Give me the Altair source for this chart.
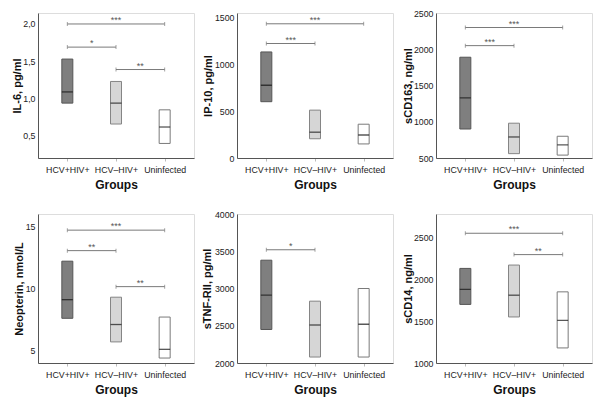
import altair as alt
import pandas as pd

GROUPS = ["HCV+HIV+", "HCV–HIV+", "Uninfected"]
FILLS = ["#7f7f7f", "#d6d6d6", "#ffffff"]
STROKES = ["#555555", "#858585", "#7a7a7a"]

# IL-6, pg/ml
IL6_LOW = [0.94, 0.66, 0.40]
IL6_MED = [1.09, 0.94, 0.62]
IL6_HIGH = [1.53, 1.23, 0.85]
IL6_SIG = [(0, 2, 2.00, "***"), (0, 1, 1.69, "*"), (1, 2, 1.39, "**")]

# IP-10, pg/ml
IP10_LOW = [600, 205, 150]
IP10_MED = [775, 275, 245]
IP10_HIGH = [1130, 510, 360]
IP10_SIG = [(0, 2, 1430, "***"), (0, 1, 1220, "***")]

# sCD163, ng/ml
CD163_LOW = [900, 560, 540]
CD163_MED = [1330, 790, 680]
CD163_HIGH = [1890, 980, 800]
CD163_SIG = [(0, 2, 2300, "***"), (0, 1, 2050, "***")]

# Neopterin, nmol/L
NEO_LOW = [7.6, 5.7, 4.4]
NEO_MED = [9.1, 7.1, 5.1]
NEO_HIGH = [12.2, 9.3, 7.7]
NEO_SIG = [(0, 2, 14.7, "***"), (0, 1, 13.05, "**"), (1, 2, 10.15, "**")]

# sTNF-RII, pg/ml
TNF_LOW = [2450, 2080, 2080]
TNF_MED = [2910, 2510, 2520]
TNF_HIGH = [3380, 2830, 3000]
TNF_SIG = [(0, 1, 3520, "*")]

# sCD14, ng/ml
CD14_LOW = [1700, 1550, 1180]
CD14_MED = [1880, 1810, 1510]
CD14_HIGH = [2130, 2170, 1850]
CD14_SIG = [(0, 2, 2550, "***"), (1, 2, 2295, "**")]

W = 156
H_TOP, H_BOTTOM = 145, 149
FONT = "Liberation Sans"

label_expr = "['" + "','".join(GROUPS) + "'][floor(datum.value)]"


def panel(low, med, high, sig, domain, ticks, title, title_x, height, comma=False):
    pos = [i + 0.5 for i in range(len(GROUPS))]
    box = pd.DataFrame({"pos": pos, "group": GROUPS, "low": low, "med": med,
                        "high": high})
    br = pd.DataFrame({
        "x1": [a + 0.5 for a, b, v, s in sig],
        "x2": [b + 0.5 for a, b, v, s in sig],
        "yv": [v for a, b, v, s in sig],
        "lab": [s for a, b, v, s in sig],
    })
    br["mid"] = (br["x1"] + br["x2"]) / 2
    ends = pd.concat([
        pd.DataFrame({"xe": br["x1"], "yv": br["yv"]}),
        pd.DataFrame({"xe": br["x2"], "yv": br["yv"]}),
    ])

    xscale = alt.Scale(domain=[0, 3], nice=False, zero=False)
    xaxis = alt.Axis(values=pos, labelExpr=label_expr, title="Groups", grid=False,
                     tickSize=3, tickColor="#bbbbbb", domainColor="#555555",
                     labelFontSize=8.8, labelColor="#222222", labelPadding=4,
                     titleFontSize=12, titleFontWeight="bold", titlePadding=6,
                     titleColor="#111111", labelFont=FONT, titleFont=FONT)
    yscale = alt.Scale(domain=domain, nice=False, zero=False)
    lab = "replace(format(datum.value, '.1f'), '.', ',')" if comma else "format(datum.value, 'd')"
    yaxis = alt.Axis(values=ticks, labelExpr=lab, title=title, grid=False, ticks=False,
                     domainColor="#555555", labelFontSize=8.8, labelColor="#222222",
                     labelPadding=3, titleFontSize=11, titleFontWeight="bold",
                     titleX=title_x, titleBaseline="middle",
                     titleColor="#111111", labelFont=FONT, titleFont=FONT)

    bars = alt.Chart(box).mark_bar(size=11, strokeWidth=1).encode(
        x=alt.X("pos:Q", scale=xscale, axis=xaxis),
        y=alt.Y("low:Q", scale=yscale, axis=yaxis),
        y2="high:Q",
        fill=alt.Fill("group:N", scale=alt.Scale(domain=GROUPS, range=FILLS), legend=None),
        stroke=alt.Stroke("group:N", scale=alt.Scale(domain=GROUPS, range=STROKES), legend=None),
    )
    meds = alt.Chart(box).mark_tick(size=11, thickness=1.3, orient="horizontal",
                                    color="#111111").encode(
        x=alt.X("pos:Q", scale=xscale, axis=xaxis),
        y=alt.Y("med:Q", scale=yscale, axis=yaxis),
    )
    rules = alt.Chart(br).mark_rule(color="#7a7a7a", strokeWidth=1).encode(
        x=alt.X("x1:Q", scale=xscale, axis=xaxis),
        x2="x2:Q",
        y=alt.Y("yv:Q", scale=yscale, axis=yaxis),
    )
    endt = alt.Chart(ends).mark_tick(size=4, thickness=1, orient="vertical",
                                     color="#7a7a7a").encode(
        x=alt.X("xe:Q", scale=xscale, axis=xaxis),
        y=alt.Y("yv:Q", scale=yscale, axis=yaxis),
    )
    stars = alt.Chart(br).mark_text(fontSize=9, dy=-1, baseline="alphabetic",
                                    color="#555555", font=FONT).encode(
        x=alt.X("mid:Q", scale=xscale, axis=xaxis),
        y=alt.Y("yv:Q", scale=yscale, axis=yaxis),
        text="lab:N",
    )
    return alt.layer(bars, meds, rules, endt, stars).properties(width=W, height=height)


p1 = panel(IL6_LOW, IL6_MED, IL6_HIGH, IL6_SIG, [0.205, 2.147], [0.5, 1.0, 1.5, 2.0],
           "IL-6, pg/ml", -21, H_TOP, comma=True)
p2 = panel(IP10_LOW, IP10_MED, IP10_HIGH, IP10_SIG, [0, 1545], [0, 500, 1000, 1500],
           "IP-10, pg/ml", -29, H_TOP)
p3 = panel(CD163_LOW, CD163_MED, CD163_HIGH, CD163_SIG, [500, 2500],
           [500, 1000, 1500, 2000, 2500], "sCD163, ng/ml", -28, H_TOP)
p4 = panel(NEO_LOW, NEO_MED, NEO_HIGH, NEO_SIG, [4, 16], [5, 10, 15],
           "Neopterin, nmol/L", -19, H_BOTTOM)
p5 = panel(TNF_LOW, TNF_MED, TNF_HIGH, TNF_SIG, [2000, 4000],
           [2000, 2500, 3000, 3500, 4000], "sTNF-RII, pg/ml", -30, H_BOTTOM)
p6 = panel(CD14_LOW, CD14_MED, CD14_HIGH, CD14_SIG, [1000, 2780],
           [1000, 1500, 2000, 2500], "sCD14, ng/ml", -28, H_BOTTOM)

chart = alt.concat(p1, p2, p3, p4, p5, p6, columns=3,
                   spacing={"row": 56, "column": 43},
                   bounds="flush").properties(
    padding={"left": 2, "top": 0, "right": 0, "bottom": 0}
).configure_view(stroke=None).configure(font=FONT, background="white")

chart.save("out.html", embed_options={"renderer": "svg", "actions": False})
